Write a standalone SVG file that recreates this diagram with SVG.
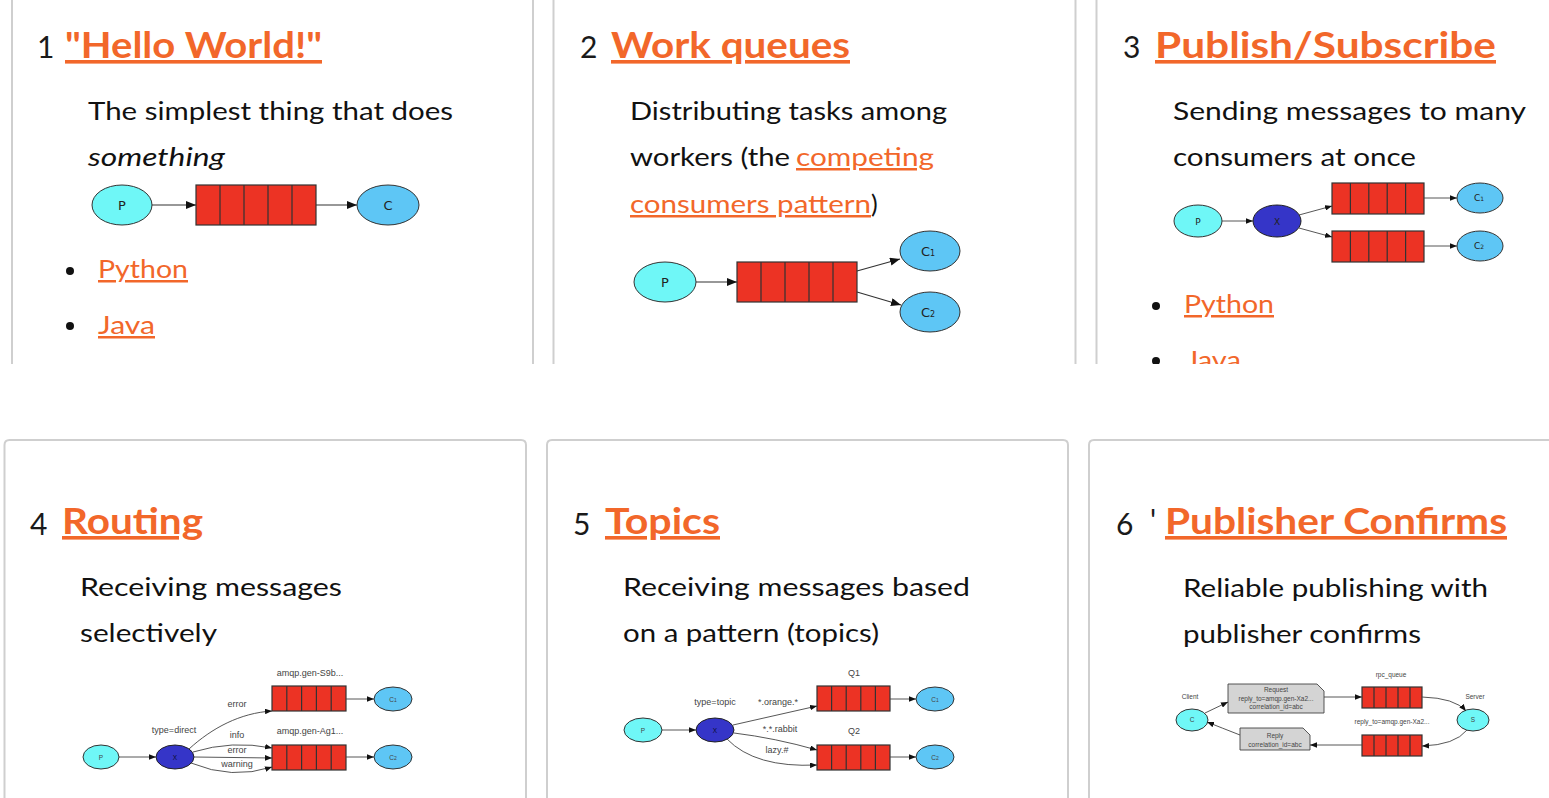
<svg xmlns="http://www.w3.org/2000/svg" width="1549" height="798" viewBox="0 0 1549 798">
<style>
.num{font-family:Lato,"Liberation Sans",sans-serif;font-size:30px;fill:#1a1a1a}
.h{font-family:Lato,"Liberation Sans",sans-serif;font-weight:bold;font-size:36px;fill:#f2672a;text-decoration:underline}
.t{font-family:Lato,"Liberation Sans",sans-serif;font-size:25px;fill:#111}
.lnk{fill:#f2672a;text-decoration:underline}
.bd{fill:none;stroke:#cfcfcf;stroke-width:2}
.p{fill:#6ff7f7;stroke:#333;stroke-width:1}
.c{fill:#5ec6f5;stroke:#333;stroke-width:1}
.x{fill:#3535c8;stroke:#222;stroke-width:1}
.q{fill:#ec3324;stroke:#333;stroke-width:1.2}
.qd{stroke:#333;stroke-width:1.2}
.e{fill:none;stroke:#333;stroke-width:1.2;marker-end:url(#ah)}
.es{fill:none;stroke:#444;stroke-width:0.9;marker-end:url(#as)}
.nl{font-family:"DejaVu Sans",sans-serif;font-size:13px;fill:#222;text-anchor:middle}
.ns{font-family:"DejaVu Sans",sans-serif;font-size:9px;fill:#222;text-anchor:middle}
.sl{font-family:"Liberation Sans",sans-serif;font-size:9px;fill:#444;text-anchor:middle}
.tl{font-family:"Liberation Sans",sans-serif;font-size:6.5px;fill:#444;text-anchor:middle}
.note{fill:#d4d4d4;stroke:#444;stroke-width:0.9}
</style>
<defs>
<marker id="ah" viewBox="0 0 10 8" refX="10" refY="4" markerWidth="10" markerHeight="8" orient="auto" markerUnits="userSpaceOnUse"><path d="M0,0 L10,4 L0,8 z" fill="#111"/></marker>
<marker id="as" viewBox="0 0 10 8" refX="10" refY="4" markerWidth="7" markerHeight="5.6" orient="auto" markerUnits="userSpaceOnUse"><path d="M0,0 L10,4 L0,8 z" fill="#111"/></marker>
<clipPath id="topclip"><rect x="0" y="0" width="1549" height="364"/></clipPath>
</defs>
<rect width="1549" height="798" fill="#fff"/>

<g id="top-row" clip-path="url(#topclip)">
<g id="panel1">
<line class="bd" x1="12" y1="-5" x2="12" y2="364"/>
<line class="bd" x1="533" y1="-5" x2="533" y2="364"/>
<text class="num" x="37" y="58">1</text>
<text class="h" x="65" y="58" textLength="257" lengthAdjust="spacingAndGlyphs">"Hello World!"</text>
<text class="t" x="88" y="120" textLength="365" lengthAdjust="spacingAndGlyphs">The simplest thing that does</text>
<text class="t" x="88" y="166" font-style="italic" textLength="137" lengthAdjust="spacingAndGlyphs">something</text>
<circle cx="70" cy="271" r="4" fill="#111"/>
<text class="t lnk" x="98" y="278" textLength="90" lengthAdjust="spacingAndGlyphs">Python</text>
<circle cx="70" cy="326" r="4" fill="#111"/>
<text class="t lnk" x="98" y="334" textLength="57" lengthAdjust="spacingAndGlyphs">Java</text>
</g>
<g id="panel2">
<line class="bd" x1="553.5" y1="-5" x2="553.5" y2="364"/>
<line class="bd" x1="1075.5" y1="-5" x2="1075.5" y2="364"/>
<text class="num" x="580" y="58">2</text>
<text class="h" x="611" y="58" textLength="239" lengthAdjust="spacingAndGlyphs">Work queues</text>
<text class="t" x="630" y="120" textLength="317" lengthAdjust="spacingAndGlyphs">Distributing tasks among</text>
<text class="t" x="630" y="166" textLength="160" lengthAdjust="spacingAndGlyphs">workers (the</text>
<text class="t lnk" x="796" y="166" textLength="138" lengthAdjust="spacingAndGlyphs">competing</text>
<text class="t lnk" x="630" y="213" textLength="241" lengthAdjust="spacingAndGlyphs">consumers pattern</text>
<text class="t" x="871" y="213">)</text>
</g>
<g id="panel3">
<line class="bd" x1="1096.5" y1="-5" x2="1096.5" y2="364"/>
<text class="num" x="1123" y="58">3</text>
<text class="h" x="1155" y="58" textLength="341" lengthAdjust="spacingAndGlyphs">Publish/Subscribe</text>
<text class="t" x="1173" y="120" textLength="353" lengthAdjust="spacingAndGlyphs">Sending messages to many</text>
<text class="t" x="1173" y="166" textLength="243" lengthAdjust="spacingAndGlyphs">consumers at once</text>
<circle cx="1156" cy="306" r="4" fill="#111"/>
<text class="t lnk" x="1184" y="313" textLength="90" lengthAdjust="spacingAndGlyphs">Python</text>
<circle cx="1156" cy="361" r="4" fill="#111"/>
<text class="t lnk" x="1186" y="369" textLength="55" lengthAdjust="spacingAndGlyphs">Java</text>
</g>
</g>

<g id="panel4">
<path class="bd" d="M4.5,800 V445 Q4.5,440 9.5,440 H521 Q526,440 526,445 V800"/>
<text class="num" x="30" y="535">4</text>
<text class="h" x="62" y="534" textLength="141" lengthAdjust="spacingAndGlyphs">Routing</text>
<text class="t" x="80" y="596" textLength="262" lengthAdjust="spacingAndGlyphs">Receiving messages</text>
<text class="t" x="80" y="642" textLength="137" lengthAdjust="spacingAndGlyphs">selectively</text>
</g>
<g id="panel5">
<path class="bd" d="M547,800 V445 Q547,440 552,440 H1063 Q1068,440 1068,445 V800"/>
<text class="num" x="573" y="535">5</text>
<text class="h" x="605" y="534" textLength="115" lengthAdjust="spacingAndGlyphs">Topics</text>
<text class="t" x="623" y="596" textLength="347" lengthAdjust="spacingAndGlyphs">Receiving messages based</text>
<text class="t" x="623" y="642" textLength="256" lengthAdjust="spacingAndGlyphs">on a pattern (topics)</text>
</g>
<g id="panel6">
<path class="bd" d="M1089,800 V445 Q1089,440 1094,440 H1560"/>
<text class="num" x="1116" y="535">6</text>
<text class="num" x="1150" y="531" font-size="16">'</text>
<text class="h" x="1165" y="534" textLength="342" lengthAdjust="spacingAndGlyphs">Publisher Confirms</text>
<text class="t" x="1183" y="597" textLength="305" lengthAdjust="spacingAndGlyphs">Reliable publishing with</text>
<text class="t" x="1183" y="643" textLength="238" lengthAdjust="spacingAndGlyphs">publisher confirms</text>
</g>

<g id="d1-P"><ellipse class="p" cx="122" cy="205" rx="30" ry="20"/><text class="nl" x="122" y="210">P</text></g>
<g id="d1-Q"><rect class="q" x="196" y="185" width="120" height="40"/><path class="qd" d="M220,185V225M244,185V225M268,185V225M292,185V225"/></g>
<g id="d1-C"><ellipse class="c" cx="388" cy="205" rx="31" ry="20"/><text class="nl" x="388" y="210">C</text></g>

<g id="d2-P"><ellipse class="p" cx="665" cy="282" rx="31" ry="20"/><text class="nl" x="665" y="287">P</text></g>
<g id="d2-Q"><rect class="q" x="737" y="262" width="120" height="40"/><path class="qd" d="M761,262V302M785,262V302M809,262V302M833,262V302"/></g>
<g id="d2-C1"><ellipse class="c" cx="930" cy="251" rx="30" ry="20"/><text class="nl" x="928" y="256">C<tspan font-size="8">1</tspan></text></g>
<g id="d2-C2"><ellipse class="c" cx="930" cy="312" rx="30" ry="20"/><text class="nl" x="928" y="317">C<tspan font-size="8">2</tspan></text></g>

<g id="d3-P"><ellipse class="p" cx="1198" cy="221" rx="24" ry="16"/><text class="ns" x="1198" y="225">P</text></g>
<g id="d3-X"><ellipse class="x" cx="1277" cy="221" rx="24" ry="16"/><text class="ns" x="1277" y="225" fill="#111">X</text></g>
<g id="d3-Q1"><rect class="q" x="1332" y="183" width="92" height="31"/><path class="qd" d="M1350.4,183V214M1368.8,183V214M1387.2,183V214M1405.6,183V214"/></g>
<g id="d3-Q2"><rect class="q" x="1332" y="231" width="92" height="31"/><path class="qd" d="M1350.4,231V262M1368.8,231V262M1387.2,231V262M1405.6,231V262"/></g>
<g id="d3-C1"><ellipse class="c" cx="1480" cy="198" rx="23" ry="15"/><text class="ns" x="1479" y="201">C<tspan font-size="6">1</tspan></text></g>
<g id="d3-C2"><ellipse class="c" cx="1480" cy="246" rx="23" ry="15"/><text class="ns" x="1479" y="249">C<tspan font-size="6">2</tspan></text></g>

<g id="d4-P"><ellipse class="p" cx="101" cy="757" rx="18" ry="12"/><text class="tl" x="101" y="760" font-size="8">P</text></g>
<g id="d4-X"><ellipse class="x" cx="175" cy="757" rx="19" ry="12"/><text class="tl" x="175" y="760" font-size="9" style="fill:#0d0d2a">X</text></g>
<g id="d4-Q1"><rect class="q" x="272" y="686" width="74" height="25"/><path class="qd" d="M286.8,686V711M301.6,686V711M316.4,686V711M331.2,686V711"/></g>
<g id="d4-Q2"><rect class="q" x="272" y="745" width="74" height="25"/><path class="qd" d="M286.8,745V770M301.6,745V770M316.4,745V770M331.2,745V770"/></g>
<g id="d4-C1"><ellipse class="c" cx="393" cy="699" rx="19" ry="12"/><text class="tl" x="393" y="702" font-size="8">C<tspan font-size="5">1</tspan></text></g>
<g id="d4-C2"><ellipse class="c" cx="393" cy="757" rx="19" ry="12"/><text class="tl" x="393" y="760" font-size="8">C<tspan font-size="5">2</tspan></text></g>
<g id="d4-labels">
<text class="sl" x="310" y="676">amqp.gen-S9b...</text>
<text class="sl" x="310" y="734">amqp.gen-Ag1...</text>
<text class="sl" x="174" y="733">type=direct</text>
<text class="sl" x="237" y="707">error</text>
<text class="sl" x="237" y="738">info</text>
<text class="sl" x="237" y="753">error</text>
<text class="sl" x="237" y="767">warning</text>
</g>

<g id="d5-P"><ellipse class="p" cx="643" cy="730" rx="19" ry="12"/><text class="tl" x="643" y="733" font-size="8">P</text></g>
<g id="d5-X"><ellipse class="x" cx="715" cy="730" rx="19" ry="12"/><text class="tl" x="715" y="733" font-size="9" style="fill:#0d0d2a">X</text></g>
<g id="d5-Q1"><rect class="q" x="817" y="686" width="73" height="25"/><path class="qd" d="M831.6,686V711M846.2,686V711M860.8,686V711M875.4,686V711"/></g>
<g id="d5-Q2"><rect class="q" x="817" y="745" width="73" height="25"/><path class="qd" d="M831.6,745V770M846.2,745V770M860.8,745V770M875.4,745V770"/></g>
<g id="d5-C1"><ellipse class="c" cx="935" cy="699" rx="19" ry="12"/><text class="tl" x="935" y="702" font-size="8">C<tspan font-size="5">1</tspan></text></g>
<g id="d5-C2"><ellipse class="c" cx="935" cy="757" rx="19" ry="12"/><text class="tl" x="935" y="760" font-size="8">C<tspan font-size="5">2</tspan></text></g>
<g id="d5-labels">
<text class="sl" x="854" y="676">Q1</text>
<text class="sl" x="854" y="734">Q2</text>
<text class="sl" x="715" y="705">type=topic</text>
<text class="sl" x="778" y="705">*.orange.*</text>
<text class="sl" x="780" y="732">*.*.rabbit</text>
<text class="sl" x="777" y="753">lazy.#</text>
</g>

<g id="d6-Client"><ellipse class="p" cx="1192" cy="720" rx="16" ry="11"/><text class="tl" x="1192" y="722">C</text><text class="tl" x="1190" y="699">Client</text></g>
<g id="d6-Request"><path class="note" d="M1228,684 H1317 L1324,691 V713 H1228 Z"/><text class="tl" x="1276" y="692">Request</text><text class="tl" x="1276" y="701">reply_to=amqp.gen-Xa2...</text><text class="tl" x="1276" y="709">correlation_id=abc</text></g>
<g id="d6-rpcq"><rect class="q" x="1362" y="687" width="60" height="21"/><path class="qd" d="M1374,687V708M1386,687V708M1398,687V708M1410,687V708"/><text class="tl" x="1391" y="677">rpc_queue</text></g>
<g id="d6-Server"><ellipse class="p" cx="1473" cy="720" rx="16" ry="11"/><text class="tl" x="1473" y="722">S</text><text class="tl" x="1475" y="699">Server</text></g>
<g id="d6-replyq"><rect class="q" x="1362" y="735" width="60" height="21"/><path class="qd" d="M1374,735V756M1386,735V756M1398,735V756M1410,735V756"/><text class="tl" x="1392" y="724">reply_to=amqp.gen-Xa2...</text></g>
<g id="d6-Reply"><path class="note" d="M1240,728 H1303 L1310,735 V750 H1240 Z"/><text class="tl" x="1275" y="738">Reply</text><text class="tl" x="1275" y="747">correlation_id=abc</text></g>

<g id="connectors">
<line class="e" x1="152" y1="205" x2="196" y2="205"/>
<line class="e" x1="316" y1="205" x2="357" y2="205"/>
<line class="e" x1="696" y1="282" x2="737" y2="282"/>
<line class="e" x1="857" y1="271" x2="900" y2="259"/>
<line class="e" x1="857" y1="292" x2="901" y2="305"/>
<line class="es" x1="1222" y1="221" x2="1253" y2="221"/>
<line class="es" x1="1299" y1="215" x2="1332" y2="206"/>
<line class="es" x1="1299" y1="228" x2="1332" y2="237"/>
<line class="es" x1="1424" y1="198" x2="1457" y2="198"/>
<line class="es" x1="1424" y1="246" x2="1457" y2="246"/>
<line class="es" x1="119" y1="757" x2="156" y2="757"/>
<path class="es" d="M189,749 C212,728 240,713 272,711"/>
<path class="es" d="M193,752 Q232,740 272,748"/>
<path class="es" d="M194,757 L272,758"/>
<path class="es" d="M191,763 Q232,780 272,767"/>
<line class="es" x1="346" y1="699" x2="374" y2="699"/>
<line class="es" x1="346" y1="757" x2="374" y2="757"/>
<line class="es" x1="662" y1="730" x2="696" y2="730"/>
<path class="es" d="M733,725 L817,706"/>
<path class="es" d="M734,733 Q775,738 817,750"/>
<path class="es" d="M727,739 Q755,768 817,765"/>
<line class="es" x1="890" y1="699" x2="916" y2="699"/>
<line class="es" x1="890" y1="757" x2="916" y2="757"/>
<path class="es" d="M1205,713 L1228,702"/>
<path class="es" d="M1324,697 L1362,697"/>
<path class="es" d="M1422,697 Q1455,698 1466,711"/>
<path class="es" d="M1467,730 Q1455,745 1422,746"/>
<path class="es" d="M1362,745 L1310,745"/>
<path class="es" d="M1240,735 Q1222,728 1207,722"/>
</g>
</svg>
